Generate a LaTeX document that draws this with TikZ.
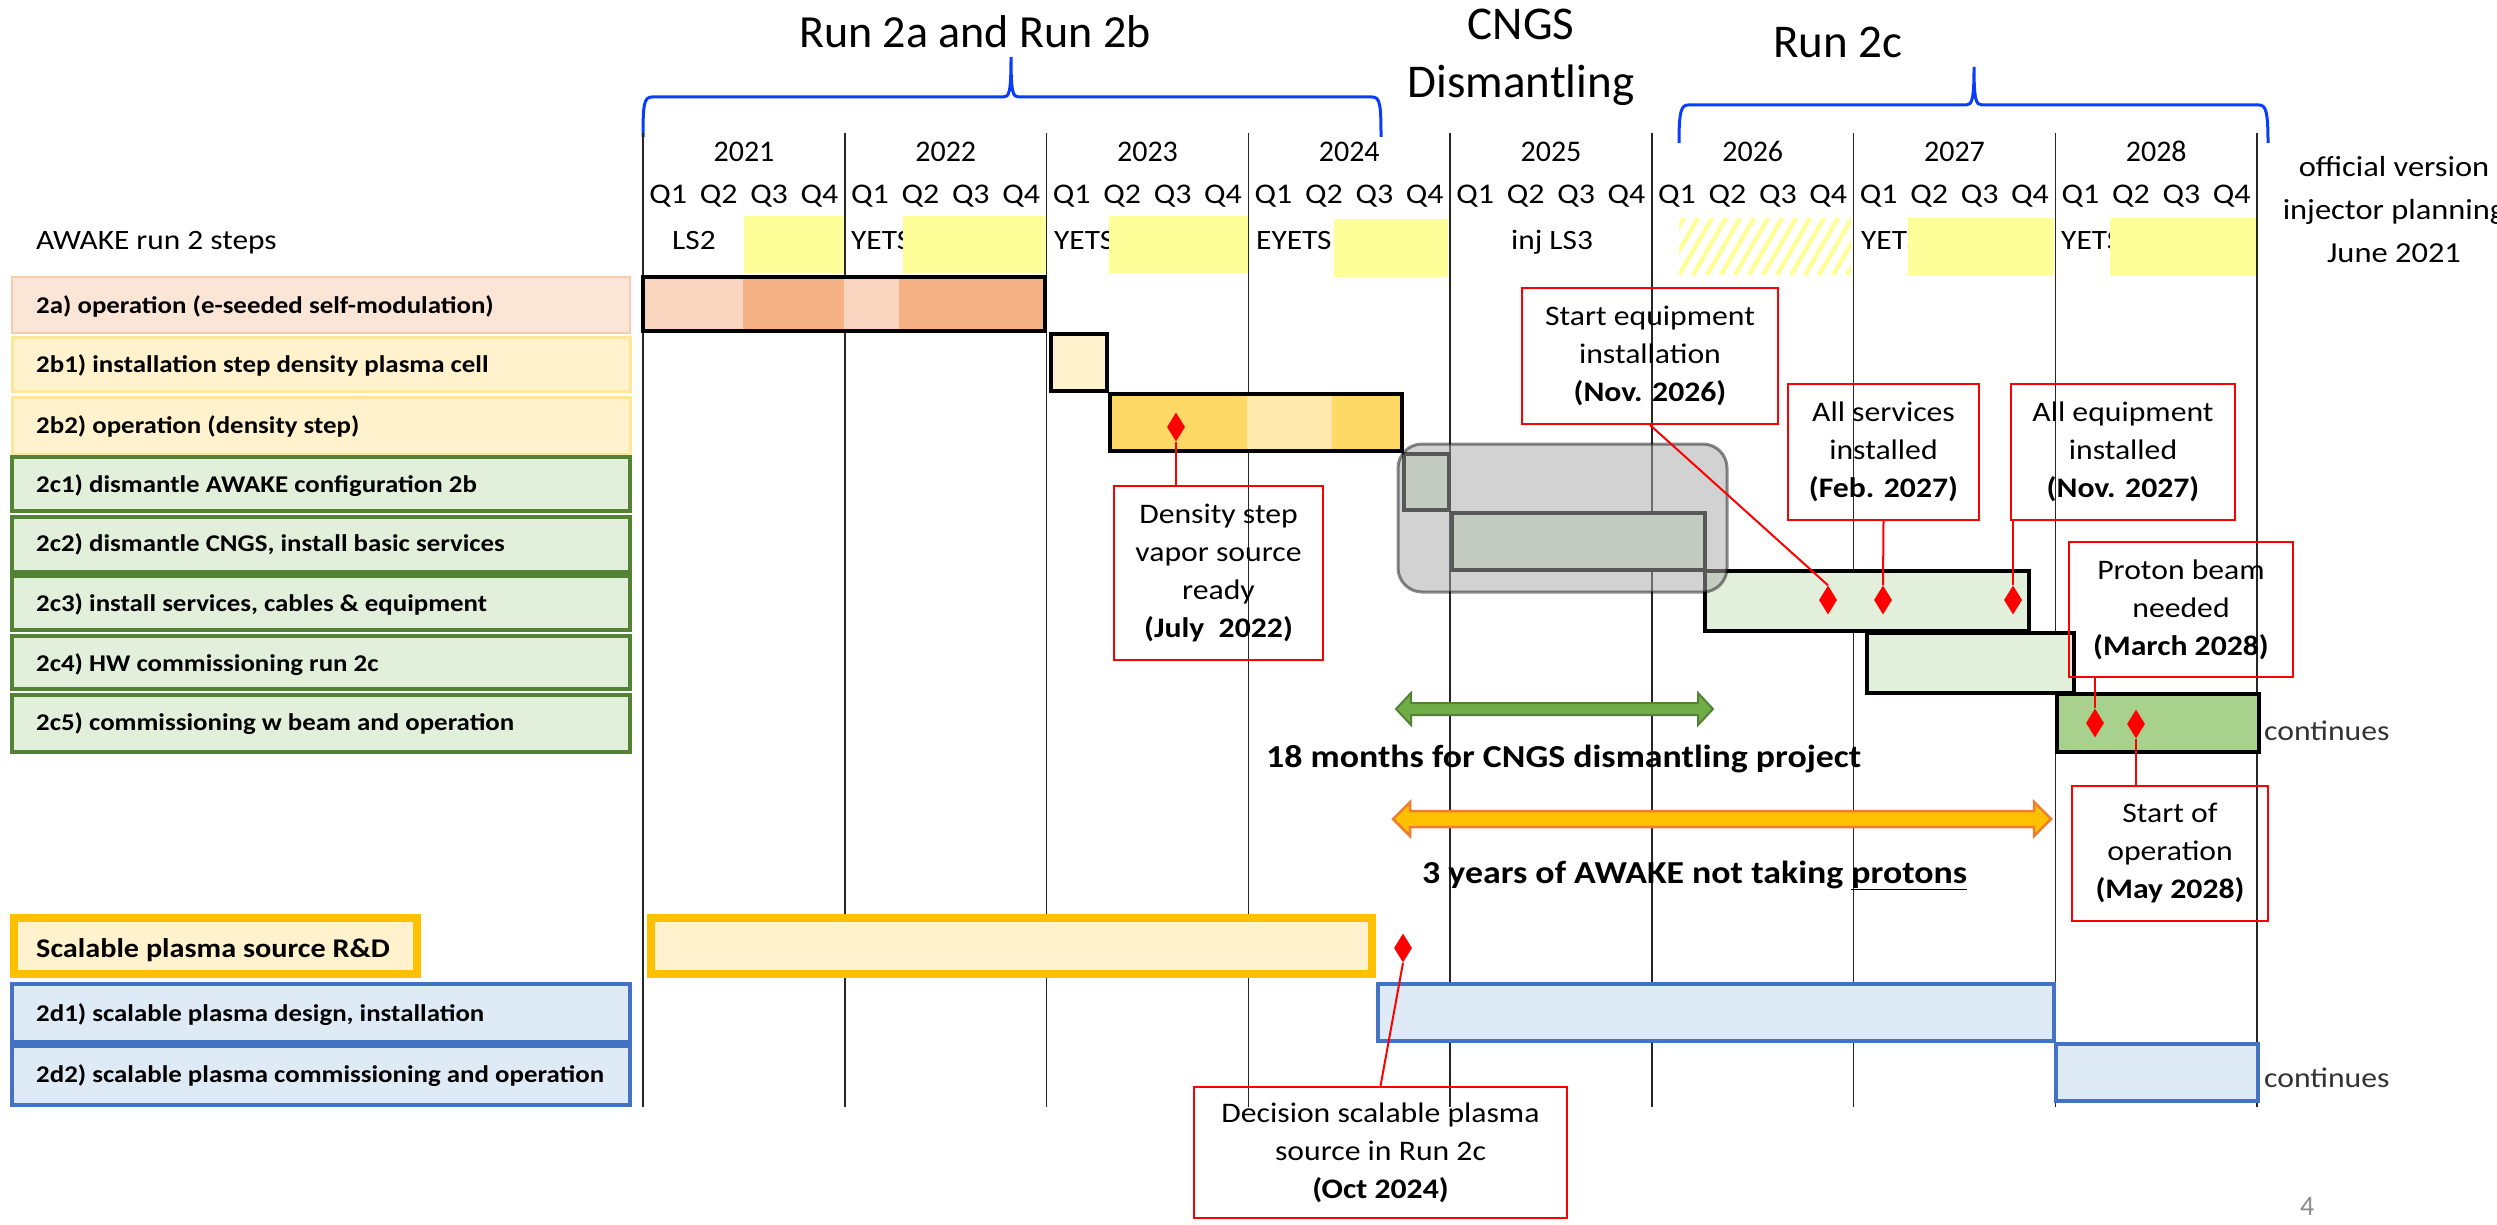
\documentclass[tikz,border=0pt]{standalone}
\usepackage{fontspec}
\setmainfont{Carlito}[FakeStretch=1.12]
\newfontfamily\titlefont{Carlito}
\usetikzlibrary{shapes.geometric}
\definecolor{hiyel}{HTML}{FFFF99}
\definecolor{peachA}{HTML}{FBE5D6}
\definecolor{peachB}{HTML}{F8CBAD}
\definecolor{peachL}{HTML}{F9D5BF}
\definecolor{peachD}{HTML}{F4B183}
\definecolor{creamA}{HTML}{FFF2CC}
\definecolor{creamB}{HTML}{FFE699}
\definecolor{goldA}{HTML}{FFD966}
\definecolor{goldL}{HTML}{FFE9AD}
\definecolor{amber}{HTML}{FFC000}
\definecolor{orangeB}{HTML}{ED7D31}
\definecolor{greenA}{HTML}{E2EFDA}
\definecolor{greenB}{HTML}{548235}
\definecolor{greenM}{HTML}{A9D18E}
\definecolor{greenArr}{HTML}{70AD47}
\definecolor{blueA}{HTML}{DEEBF7}
\definecolor{blueB}{HTML}{4472C4}
\definecolor{braceblue}{HTML}{0A3CFF}
\definecolor{overlaygrey}{HTML}{AAAAAA}
\begin{document}
\begin{tikzpicture}[x=1pt,y=-1pt,
  ttl/.style={font=\titlefont\fontsize{47}{56}\selectfont, inner sep=0pt, anchor=base},
  yearlab/.style={font=\titlefont\fontsize{30}{36}\selectfont, inner sep=0pt, anchor=base},
  qlab/.style={font=\fontsize{28.5}{34}\selectfont, inner sep=0pt, anchor=base},
  hdr/.style={font=\fontsize{28}{34}\selectfont, inner sep=0pt, anchor=base west},
  sidenote/.style={font=\fontsize{29}{35}\selectfont, inner sep=0pt, anchor=base},
  rowlab/.style={font=\bfseries\fontsize{24}{29}\selectfont, inner sep=0pt, anchor=base west},
  boldnote/.style={font=\bfseries\fontsize{32}{38}\selectfont, inner sep=0pt, anchor=base west},
  contlab/.style={font=\fontsize{28.3}{34}\selectfont, text=black!80, inner sep=0pt, anchor=base west},
  callout/.style={draw=red, line width=2pt, inner sep=0pt, align=center, font=\fontsize{28.3}{38}\selectfont},
  ms/.style={diamond, fill=red, draw=none, minimum width=18pt, minimum height=29pt, inner sep=0pt},
  conn/.style={draw=red, line width=2pt},
  gline/.style={draw=black!85, line width=1.5pt},
  ganttbar/.style={draw=black, line width=3.5pt},
  brc/.style={draw=braceblue, line width=3pt},
  lab2a/.style={fill=peachA, draw=peachB, line width=2.5pt},
  lab2b/.style={fill=creamA, draw=creamB, line width=3pt},
  lab2c/.style={fill=greenA, draw=greenB, line width=3.5pt},
  lab2d/.style={fill=blueA, draw=blueB, line width=4pt},
  rdbox/.style={fill=creamA, draw=amber, line width=8pt},
]
\useasboundingbox (0,0) rectangle (2497,1225);
\fill[white] (0,0) rectangle (2497,1225);
\clip (0,0) rectangle (2497,1225);

% ---------- titles and braces ----------
\node[ttl, font=\titlefont\fontsize{46}{55}\selectfont] (t2ab) at (975,48) {Run 2a and Run 2b};
\node[ttl] (tcngs) at (1521,40) {CNGS};
\node[ttl] (tdism) at (1521,98) {Dismantling};
\node[ttl] (t2c) at (1838,58) {Run 2c};
\draw[brc] (643,137) .. controls (643,104) and (644,97) .. (652,97) -- (1003,97)
  .. controls (1009,97) and (1011,94) .. (1011,57)
  .. controls (1011,94) and (1013,97) .. (1019,97) -- (1372,97)
  .. controls (1380,97) and (1381,104) .. (1381,137);
\draw[brc] (1679,143) .. controls (1679,112) and (1681,105) .. (1688,105) -- (1966,105)
  .. controls (1972,105) and (1974,100) .. (1974,67)
  .. controls (1974,100) and (1976,105) .. (1982,105) -- (2259,105)
  .. controls (2266,105) and (2268,112) .. (2268,143);

% ---------- years and quarters ----------
\foreach \i in {0,...,7}{
  \pgfmathsetmacro\xl{643+201.75*\i}
  \pgfmathtruncatemacro\yr{2021+\i}
  \node[yearlab] (yr\yr) at ({\xl+101},162) {\yr};
  \foreach \q in {1,...,4}{
    \node[qlab] (q\yr-\q) at ({\xl+25.2+50.44*(\q-1)},204) {Q\q};
  }
}

% ---------- shutdown row ----------
\node[hdr] (awake) at (36,249) {AWAKE run 2 steps};
\node[hdr] (ls2) at (672,249) {LS2};
\node[hdr] (yets22) at (851,249) {YETS};
\node[hdr] (yets23) at (1054,249) {YETS};
\node[hdr] (eyets24) at (1256,249) {EYETS};
\node[hdr] (injls3) at (1511,249) {inj LS3};
\node[hdr] (yets27) at (1861,249) {YETS};
\node[hdr] (yets28) at (2061,249) {YETS};
\fill[hiyel] (744,216) rectangle (844,273);
\fill[hiyel] (903,216) rectangle (1046,273);
\fill[hiyel] (1109,216) rectangle (1248,273);
\fill[hiyel] (1334,219) rectangle (1448,277);
\fill[hiyel] (1908,218) rectangle (2054,275);
\fill[hiyel] (2110,218) rectangle (2256,275);
\begin{scope}
  \clip (1679,218) rectangle (1851,275);
  \foreach \k in {-4,...,14}{
    \draw[hiyel, line width=4.5pt] ({1679+\k*14},275) -- ({1679+\k*14+33},218);
  }
\end{scope}

\node[sidenote] (offv) at (2394,177) {official version};
\node[sidenote] (injp) at (2394,219) {injector planning};
\node[sidenote] (june) at (2394,262) {June 2021};

% ---------- grid lines ----------
\foreach \i in {0,...,8}{
  \draw[gline] ({643+201.75*\i},133) -- ({643+201.75*\i},1107);
}

% ---------- row labels ----------
\draw[lab2a] (12,277) rectangle (630,333);
\draw[lab2b] (12,337) rectangle (630,391);
\draw[lab2b] (12,397) rectangle (630,454);
\draw[lab2c] (12,457) rectangle (630,511);
\draw[lab2c] (12,517) rectangle (630,572);
\draw[lab2c] (12,576) rectangle (630,630);
\draw[lab2c] (12,636) rectangle (630,689);
\draw[lab2c] (12,695) rectangle (630,752);
\draw[rdbox] (14,918) rectangle (417,974);
\draw[lab2d] (12,984) rectangle (630,1042);
\draw[lab2d] (12,1046) rectangle (630,1105);

\node[rowlab] (l2a)  at (36,313) {2a) operation (e-seeded self-modulation)};
\node[rowlab] (l2b1) at (36,372) {2b1) installation step density plasma cell};
\node[rowlab] (l2b2) at (36,433) {2b2) operation (density step)};
\node[rowlab] (l2c1) at (36,492) {2c1) dismantle AWAKE configuration 2b};
\node[rowlab] (l2c2) at (36,551) {2c2) dismantle CNGS, install basic services};
\node[rowlab] (l2c3) at (36,611) {2c3) install services, cables \& equipment};
\node[rowlab] (l2c4) at (36,671) {2c4) HW commissioning run 2c};
\node[rowlab] (l2c5) at (36,730) {2c5) commissioning w beam and operation};
\node[rowlab, font=\bfseries\fontsize{27}{32}\selectfont] (lrd) at (36,957) {Scalable plasma source R\&D};
\node[rowlab] (l2d1) at (36,1021) {2d1) scalable plasma design, installation};
\node[rowlab] (l2d2) at (36,1082) {2d2) scalable plasma commissioning and operation};

% ---------- gantt bars ----------
\fill[peachL] (643,277) rectangle (743,331);
\fill[peachD] (743,277) rectangle (844,331);
\fill[peachL] (844,277) rectangle (899,331);
\fill[peachD] (899,277) rectangle (1045,331);
\draw[ganttbar] (643,277) rectangle (1045,331);

\draw[ganttbar, fill=creamA] (1051,334) rectangle (1107,391);

\fill[goldA] (1110,394) rectangle (1247,451);
\fill[goldL] (1247,394) rectangle (1332,451);
\fill[goldA] (1332,394) rectangle (1402,451);
\draw[ganttbar] (1110,394) rectangle (1402,451);

\draw[ganttbar, fill=greenA] (1404,454) rectangle (1449,510);
\draw[ganttbar, fill=greenA] (1452,513) rectangle (1705,570);
\draw[ganttbar, fill=greenA] (1705,571) rectangle (2029,631);
\draw[ganttbar, fill=greenA] (1867,633) rectangle (2074,693);
\draw[ganttbar, fill=greenM, line width=4pt] (2057,694) rectangle (2259,752);

\draw[rdbox] (651,918) rectangle (1372,974);
\draw[fill=blueA, draw=blueB, line width=3.5pt] (1378,984) rectangle (2054,1041);
\draw[fill=blueA, draw=blueB, line width=3.5pt] (2056,1044) rectangle (2258,1101);

% grey overlay (CNGS dismantling)
\draw[fill=overlaygrey, fill opacity=0.52, draw=black, draw opacity=0.45, line width=3pt, rounded corners=24pt]
  (1398,444) rectangle (1727,592);

\node[contlab] (cont1) at (2264,740) {continues};
\node[contlab] (cont2) at (2264,1087) {continues};

% ---------- double arrows ----------
\draw[fill=greenArr, draw=greenB, line width=2pt, line join=miter]
  (1396,709) -- (1411,693) -- (1411,703) -- (1698,703) -- (1698,693) -- (1713,709)
  -- (1698,725) -- (1698,715) -- (1411,715) -- (1411,725) -- cycle;
\node[boldnote] (n18) at (1266,767) {18 months for CNGS dismantling project};
\draw[fill=amber, draw=orangeB, line width=2.5pt, line join=miter]
  (1393,819) -- (1410,802) -- (1410,811) -- (2034,811) -- (2034,802) -- (2051,819)
  -- (2034,836) -- (2034,827) -- (1410,827) -- (1410,836) -- cycle;
\node[boldnote] (n3y) at (1422,883) {3 years of AWAKE not taking \underline{protons}};

% ---------- milestones ----------
\node[ms] (m1) at (1176,427) {};
\node[ms] (m2) at (1828,600) {};
\node[ms] (m3) at (1883,600) {};
\node[ms] (m4) at (2013,600) {};
\node[ms] (m5) at (2095,723) {};
\node[ms] (m6) at (2136,724) {};
\node[ms] (m7) at (1403,948) {};

% ---------- callouts ----------
\node[callout, minimum width=209pt, minimum height=174pt] (dens) at (1218.5,573)
  {Density step\\vapor source\\ready\\\textbf{(July\ \ 2022)}};
\node[callout, minimum width=256pt, minimum height=136pt] (starteq) at (1650,356)
  {Start equipment\\installation\\\textbf{(Nov. 2026)}};
\node[callout, minimum width=191pt, minimum height=136pt] (allserv) at (1883.5,452)
  {All services\\installed\\\textbf{(Feb. 2027)}};
\node[callout, minimum width=224pt, minimum height=136pt] (alleq) at (2123,452)
  {All equipment\\installed\\\textbf{(Nov. 2027)}};
\node[callout, minimum width=224pt, minimum height=135pt] (proton) at (2181,609.5)
  {Proton beam\\needed\\\textbf{(March 2028)}};
\node[callout, minimum width=196pt, minimum height=135pt] (startop) at (2170,853.5)
  {Start of\\operation\\\textbf{(May 2028)}};
\node[callout, minimum width=373pt, minimum height=131pt] (decision) at (1380.5,1152.5)
  {Decision scalable plasma\\source in Run 2c\\\textbf{(Oct 2024)}};

\draw[conn] (m1.south) -- (m1.south |- dens.north);
\draw[conn] (starteq.south) -- (m2.north);
\draw[conn] (allserv.south) -- (m3.north);
\draw[conn] (m4.north) -- (m4.north |- alleq.south);
\draw[conn] (m5.north) -- (m5.north |- proton.south);
\draw[conn] (m6.south) -- (m6.south |- startop.north);
\draw[conn] (decision.north) -- (m7.south);

\node[inner sep=0pt, anchor=base west, font=\titlefont\fontsize{28}{34}\selectfont, text=black!45] (pg) at (2300,1215) {4};
\end{tikzpicture}
\end{document}
